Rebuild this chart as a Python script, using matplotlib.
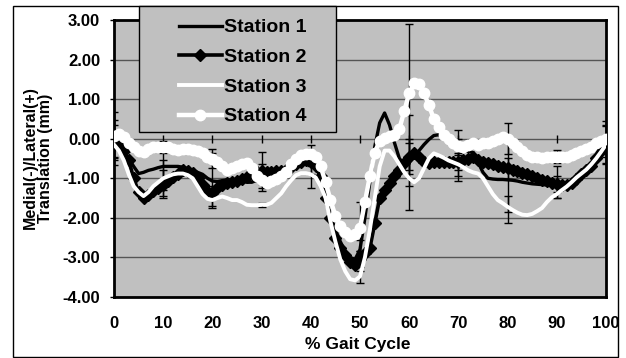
import matplotlib
matplotlib.use('Agg')
import matplotlib.pyplot as plt
from matplotlib.patches import Rectangle
import numpy as np

# % gait cycle, one sample per percent
gait = list(range(0, 101))

station1 = [-0.10, -0.20, -0.35, -0.50, -0.70, -0.88, -0.85, -0.80, -0.77, -0.73,
            -0.70, -0.70, -0.70, -0.70, -0.72, -0.76, -0.80, -0.85, -0.90, -1.00,
            -1.07, -1.08, -1.06, -1.04, -1.05, -1.05, -1.07, -1.10, -1.10, -1.05,
            -0.98, -0.95, -0.93, -0.90, -0.85, -0.80, -0.72, -0.65, -0.62, -0.60,
            -0.60, -0.70, -1.00, -1.50, -1.95, -2.30, -2.60, -2.85, -3.00, -3.05,
            -2.80, -2.00, -1.10, -0.20, 0.40, 0.65, 0.35, -0.10, -0.50, -0.65,
            -0.60, -0.45, -0.30, -0.15, -0.02, 0.08, 0.10, 0.00, -0.10, -0.20,
            -0.28, -0.30, -0.32, -0.35, -0.60, -0.85, -1.00, -1.02, -1.03, -1.03,
            -1.04, -1.05, -1.07, -1.10, -1.12, -1.14, -1.15, -1.16, -1.17, -1.18,
            -1.18, -1.17, -1.15, -1.10, -1.02, -0.92, -0.85, -0.65, -0.45, -0.25,
            -0.07]

station2 = [-0.10, -0.15, -0.30, -0.55, -1.00, -1.35, -1.50, -1.42, -1.33, -1.25,
            -1.17, -1.08, -0.98, -0.88, -0.80, -0.82, -0.87, -1.00, -1.17, -1.32,
            -1.38, -1.25, -1.17, -1.12, -1.10, -1.06, -1.03, -0.98, -0.90, -0.83,
            -0.82, -0.83, -0.83, -0.82, -0.82, -0.80, -0.72, -0.65, -0.58, -0.55,
            -0.58, -0.70, -0.95, -1.50, -2.00, -2.50, -2.75, -2.95, -3.12, -3.18,
            -3.05, -2.90, -2.77, -2.14, -1.50, -1.30, -1.12, -0.95, -0.80, -0.62,
            -0.45, -0.35, -0.45, -0.60, -0.62, -0.60, -0.60, -0.60, -0.60, -0.60,
            -0.60, -0.55, -0.50, -0.45, -0.55, -0.60, -0.62, -0.65, -0.68, -0.71,
            -0.74, -0.78, -0.82, -0.86, -0.90, -0.95, -1.00, -1.04, -1.08, -1.12,
            -1.15, -1.17, -1.17, -1.12, -1.02, -0.90, -0.79, -0.68, -0.48, -0.30,
            -0.12]

station3 = [-0.15, -0.30, -0.55, -0.90, -1.20, -1.35, -1.45, -1.35, -1.20, -1.10,
            -1.00, -0.95, -0.90, -0.88, -0.88, -0.92, -1.00, -1.20, -1.40, -1.52,
            -1.55, -1.50, -1.46, -1.50, -1.55, -1.55, -1.60, -1.67, -1.68, -1.68,
            -1.67, -1.67, -1.62, -1.50, -1.38, -1.20, -1.05, -0.92, -0.87, -0.87,
            -0.90, -0.98, -1.20, -1.50, -2.10, -2.60, -3.05, -3.35, -3.55, -3.58,
            -3.48, -3.00, -2.30, -1.50, -0.70, -0.30, -0.30, -0.45, -0.65, -0.85,
            -1.00, -1.10, -1.00, -0.75, -0.50, -0.37, -0.42, -0.48, -0.55, -0.60,
            -0.65, -0.72, -0.80, -0.85, -0.88, -1.00, -1.20, -1.40, -1.55, -1.63,
            -1.72, -1.80, -1.87, -1.92, -1.93, -1.90, -1.83, -1.75, -1.60, -1.48,
            -1.40, -1.30, -1.21, -1.10, -0.98, -0.88, -0.78, -0.65, -0.50, -0.33,
            -0.15]

station4 = [0.08, 0.12, 0.05, -0.10, -0.22, -0.30, -0.33, -0.25, -0.20, -0.20,
            -0.20, -0.22, -0.27, -0.28, -0.25, -0.27, -0.28, -0.32, -0.37, -0.45,
            -0.52, -0.58, -0.70, -0.78, -0.75, -0.70, -0.65, -0.62, -0.75, -0.95,
            -1.05, -1.12, -1.08, -1.02, -0.95, -0.85, -0.65, -0.50, -0.42, -0.38,
            -0.38, -0.45, -0.70, -1.10, -1.55, -1.95, -2.20, -2.35, -2.45, -2.42,
            -2.25, -1.60, -0.95, -0.35, -0.05, 0.02, 0.08, 0.10, 0.25, 0.70,
            1.15, 1.40, 1.38, 1.15, 0.85, 0.50, 0.30, 0.10, 0.00, -0.10,
            -0.18, -0.20, -0.15, -0.10, -0.15, -0.12, -0.10, -0.05, 0.00, 0.05,
            0.00, -0.10, -0.20, -0.30, -0.40, -0.45, -0.45, -0.48, -0.45, -0.45,
            -0.45, -0.45, -0.45, -0.40, -0.35, -0.30, -0.25, -0.20, -0.12, -0.05,
            0.00]

# error bars every 10 % (mean, sd)
err_x = [0, 10, 20, 30, 40, 50, 60, 70, 80, 90, 100]
err_mean1 = [-0.10, -0.70, -1.05, -0.95, -0.60, -2.70, -0.60, -0.28, -1.05, -1.10, -0.15]
err_sd1 = [0.57, 0.60, 0.70, 0.30, 0.30, 0.15, 0.60, 0.50, 1.08, 0.40, 0.46]
err_mean2 = [-0.10, -1.15, -1.35, -0.83, -0.60, -3.05, -0.45, -0.60, -0.75, -1.15, -0.10]
err_sd2 = [0.45, 0.35, 0.15, 0.50, 0.10, 0.20, 0.35, 0.48, 0.26, 0.20, 0.18]
err_mean3 = [-0.15, -1.00, -1.55, -1.67, -0.90, -3.50, -0.60, -0.65, -1.65, -1.30, -0.15]
err_sd3 = [0.30, 0.45, 0.15, 0.05, 0.35, 0.15, 1.20, 0.30, 0.20, 0.20, 0.50]
err_mean4 = [0.10, -0.20, -0.50, -1.05, -0.40, -2.30, 1.00, -0.20, 0.00, -0.45, 0.00]
err_sd4 = [0.58, 0.15, 0.25, 0.10, 0.24, 0.70, 1.90, 0.20, 0.39, 0.17, 0.46]

font = 'Liberation Sans'
plt.rcParams['font.family'] = [font, 'DejaVu Sans']
plt.rcParams['font.weight'] = 'bold'

fig = plt.figure(figsize=(6.26, 3.58), dpi=100)
ax = fig.add_axes([114 / 626, 1 - 297 / 358, (606 - 114) / 626, (297 - 20) / 358])
ax.set_facecolor('#c0c0c0')

for m, s in [(err_mean1, err_sd1), (err_mean2, err_sd2),
             (err_mean3, err_sd3), (err_mean4, err_sd4)]:
    ax.errorbar(err_x, m, yerr=s, fmt='none', ecolor='black',
                elinewidth=1, capsize=3, capthick=1, zorder=2)

l1, = ax.plot(gait, station1, color='black', lw=2.4, zorder=3, label='Station 1')
l2, = ax.plot(gait, station2, color='black', lw=2.6, marker='D', ms=6,
              zorder=3, label='Station 2')
l3, = ax.plot(gait, station3, color='white', lw=2.8, zorder=3, label='Station 3')
l4, = ax.plot(gait, station4, color='white', lw=3.2, marker='o', ms=7.5,
              zorder=3, label='Station 4')

ax.set_xlim(0, 100)
ax.set_ylim(-4, 3)
ax.set_yticks(np.arange(-4, 3.01, 1))
ax.set_yticklabels([f'{v:.2f}' for v in np.arange(-4, 3.01, 1)])
ax.set_xticks(err_x)
ax.grid(axis='y', color='#555555', lw=1)
ax.set_axisbelow(True)
ax.tick_params(axis='y', direction='out', length=3, width=1, pad=7, labelsize=12)
ax.tick_params(axis='x', length=0, pad=14, labelsize=12)
for sp in ax.spines.values():
    sp.set_linewidth(2)

# category axis crosses at zero
ax.vlines(err_x, -0.1, 0.1, color='black', lw=1, zorder=1.5)

fig.text(38 / 626, 1 - 158 / 358, 'Medial(-)/Lateral(+)\nTranslation (mm)',
         rotation=90, ha='center', va='center', fontsize=11.5,
         fontweight='bold', linespacing=1.0, multialignment='center')
fig.text(358 / 626, 1 - 345 / 358, '% Gait Cycle', ha='center', va='center',
         fontsize=12.5, fontweight='bold')

# outer chart border
fig.patches.append(Rectangle((13 / 626, 1 / 358), 605 / 626, 351 / 358,
                             transform=fig.transFigure, fill=False,
                             edgecolor='black', lw=1, zorder=0))

# legend box
fig.patches.append(Rectangle((139 / 626, 1 - 132 / 358), 197 / 626, 126 / 358,
                             transform=fig.transFigure, facecolor='#c0c0c0',
                             edgecolor='black', lw=1, zorder=5))
leg = fig.legend(handles=[l1, l2, l3, l4], loc='upper left',
                 bbox_to_anchor=(169 / 626, 1 - 9 / 358), frameon=False,
                 fontsize=14, handlelength=2.2, handletextpad=0.15,
                 labelspacing=0.62, borderpad=0, numpoints=1)
leg.set_zorder(6)

fig.savefig('out.png', dpi=100)
